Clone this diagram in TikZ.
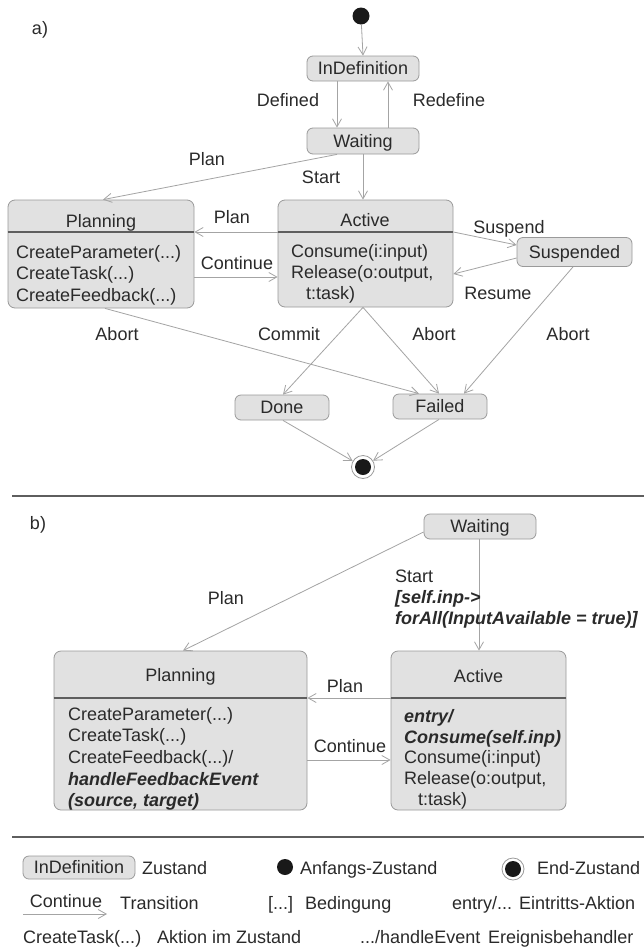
\documentclass[tikz,border=0pt]{standalone}
\usepackage{fontspec}
\setmainfont{Liberation Sans}
\usetikzlibrary{arrows.meta}
\definecolor{ink}{HTML}{2A2A2A}
\definecolor{boxfill}{HTML}{E1E1E1}
\definecolor{boxline}{HTML}{9A9A9A}
\definecolor{edge}{HTML}{A4A4A4}
\definecolor{rulecol}{HTML}{5E5E5E}

\tikzset{
  txt/.style={font=\fontsize{18}{21.5}\selectfont, text=ink, inner sep=0pt,
              text height=12.6pt, text depth=0pt},
  lbl/.style={txt},
  line/.style={txt, anchor=west},
  emph/.style={font=\fontsize{18}{21.5}\selectfont\bfseries\itshape},
  state/.style={txt, draw=boxline, fill=boxfill, rounded corners=6pt, line width=0.8pt},
  comp/.style={draw=boxline, fill=boxfill, rounded corners=7pt, line width=0.8pt, inner sep=0pt},
  divider/.style={draw=rulecol, line width=1.6pt},
  trans/.style={draw=edge, line width=0.8pt,
                -{Straight Barb[length=8pt,width=9pt,line width=0.8pt]}},
  sepline/.style={draw=rulecol, line width=1.8pt},
  initdot/.style={circle, fill=black!90, inner sep=0pt, minimum size=17pt},
  finaldot/.style={circle, draw=boxline, fill=white, line width=0.8pt, inner sep=0pt,
                   minimum size=23pt,
                   path picture={\fill[black!90] (path picture bounding box.center) circle (8pt);}},
}

\begin{document}
\begin{tikzpicture}[x=1pt, y=-1pt]
\useasboundingbox (0,0) rectangle (644,948);
\fill[white] (0,0) rectangle (644,948);

% ---------------- part a ----------------
\node[lbl] (tagA) at (40,28) {a)};

\node[initdot] (initA) at (361,16) {};
\node[state, minimum width=112pt, minimum height=25pt] (indefA) at (363,68.5) {InDefinition};
\node[state, minimum width=112pt, minimum height=26pt] (waitA) at (363,141) {Waiting};

% composite state Planning
\coordinate (divA) at (0,232);
\node[comp, minimum width=186pt, minimum height=108pt] (planA) at (101,254) {};
\draw[divider] (planA.west |- divA) -- (planA.east |- divA);
\node[lbl] (planAh) at (101,221) {Planning};
\node[line] (planA1) at (16,252) {CreateParameter(...)};
\node[line] (planA2) at (16,273.5) {CreateTask(...)};
\node[line] (planA3) at (16,295) {CreateFeedback(...)};

% composite state Active
\node[comp, minimum width=175pt, minimum height=107pt] (actA) at (365.5,253.5) {};
\draw[divider] (actA.west |- divA) -- (actA.east |- divA);
\node[lbl] (actAh) at (365,220) {Active};
\node[line] (actA1) at (291,251) {Consume(i:input)};
\node[line] (actA2) at (291,272) {Release(o:output,};
\node[line] (actA3) at (306,293) {t:task)};

\node[state, minimum width=115pt, minimum height=29pt] (suspA) at (574.5,252) {Suspended};
\node[state, minimum width=94pt, minimum height=25pt] (doneA) at (282,407.5) {Done};
\node[state, minimum width=94pt, minimum height=25pt] (failA) at (440,406.5) {Failed};
\node[finaldot] (finalA) at (363,467) {};

% transitions
\draw[trans] (initA) -- (indefA.north);
\draw[trans] ([xshift=-26pt]indefA.south) -- ([xshift=-26pt]waitA.north);
\draw[trans] ([xshift=25pt]waitA.north) -- ([xshift=25pt]indefA.south);
\draw[trans] ([xshift=-26pt]waitA.south) -- ([xshift=2pt]planA.north);
\draw[trans] (waitA.south) -- ([xshift=-2.5pt]actA.north);
\draw[trans] (actA.west |- divA) -- (planA.east |- divA);
\draw[trans] (actA.east |- divA) -- ([yshift=7pt]suspA.west);
\draw[trans] ([yshift=-6pt]suspA.west) -- ([yshift=-20.5pt]actA.east);
\draw[trans] ([yshift=-23pt]planA.east) -- ([yshift=-23.5pt]actA.west);
\draw[trans] ([xshift=4pt]planA.south) -- ([xshift=-21pt]failA.north);
\draw[trans] ([xshift=-2.5pt]actA.south) -- ([xshift=1pt]doneA.north);
\draw[trans] ([xshift=-2.5pt]actA.south) -- ([xshift=-1pt]failA.north);
\draw[trans] ([xshift=-1.5pt]suspA.south) -- ([xshift=24pt]failA.north);
\draw[trans] ([xshift=1pt]doneA.south) -- (finalA);
\draw[trans] ([xshift=-1pt]failA.south) -- (finalA);

% transition labels
\node[lbl] (lDefined) at (288,100) {Defined};
\node[lbl] (lRedefine) at (449,100) {Redefine};
\node[lbl] (lPlanA1) at (207,159) {Plan};
\node[lbl] (lStartA) at (321,177) {Start};
\node[lbl] (lPlanA2) at (232,217) {Plan};
\node[lbl] (lSuspend) at (509,227) {Suspend};
\node[lbl] (lResume) at (498,293) {Resume};
\node[lbl] (lContA) at (237,263) {Continue};
\node[lbl] (lAbort1) at (117,334) {Abort};
\node[lbl] (lCommit) at (289,334) {Commit};
\node[lbl] (lAbort2) at (434,334) {Abort};
\node[lbl] (lAbort3) at (568,334) {Abort};

% separator
\coordinate (sep1l) at (12,496);
\coordinate (sep1r) at (644,496);
\draw[sepline] (sep1l) -- (sep1r);

% ---------------- part b ----------------
\node[lbl] (tagB) at (38,523) {b)};

\node[state, minimum width=112pt, minimum height=25pt] (waitB) at (480,526.5) {Waiting};

\coordinate (divB) at (0,698);
\node[comp, minimum width=253pt, minimum height=159pt] (planB) at (180.5,730.5) {};
\draw[divider] (planB.west |- divB) -- (planB.east |- divB);
\node[lbl] (planBh) at (180.5,675) {Planning};
\node[line] (planB1) at (68,714) {CreateParameter(...)};
\node[line] (planB2) at (68,735.5) {CreateTask(...)};
\node[line] (planB3) at (68,757) {CreateFeedback(...)/};
\node[line, emph] (planB4) at (68,779) {handleFeedbackEvent};
\node[line, emph] (planB5) at (68,800.5) {(source, target)};

\node[comp, minimum width=175pt, minimum height=159pt] (actB) at (478.5,730.5) {};
\draw[divider] (actB.west |- divB) -- (actB.east |- divB);
\node[lbl] (actBh) at (478.5,676) {Active};
\node[line, emph] (actB1) at (404,716) {entry/};
\node[line, emph] (actB2) at (404,737) {Consume(self.inp)};
\node[line] (actB3) at (404,757.5) {Consume(i:input)};
\node[line] (actB4) at (404,778) {Release(o:output,};
\node[line] (actB5) at (418,799) {t:task)};

\draw[trans] ([yshift=-5.5pt]waitB.west) -- ([xshift=2.5pt]planB.north);
\draw[trans] ([xshift=-1pt]waitB.south) -- ([xshift=0.5pt]actB.north);
\draw[trans] (actB.west |- divB) -- (planB.east |- divB);
\draw[trans] ([yshift=-29.5pt]planB.east) -- ([yshift=-29.5pt]actB.west);

\node[lbl] (lPlanB1) at (226,598) {Plan};
\node[line] (lStartB1) at (395,576) {Start};
\node[line, emph] (lStartB2) at (395,597) {[self.inp->};
\node[line, emph] (lStartB3) at (395,618) {forAll(InputAvailable = true)]};
\node[lbl] (lPlanB2) at (345,686) {Plan};
\node[lbl] (lContB) at (350,746) {Continue};

\coordinate (sep2l) at (12,837);
\coordinate (sep2r) at (644,837);
\draw[sepline] (sep2l) -- (sep2r);

% ---------------- legend ----------------
\node[state, minimum width=112pt, minimum height=23pt] (legState) at (79,867.5) {InDefinition};
\node[line] (legStateT) at (142,868) {Zustand};
\node[initdot, minimum size=16pt] (legInit) at (285,867) {};
\node[line] (legInitT) at (300,868) {Anfangs-Zustand};
\node[finaldot, minimum size=22pt] (legFinal) at (513,869) {};
\node[line] (legFinalT) at (537,868) {End-Zustand};

\node[lbl] (legTransL) at (66,901) {Continue};
\coordinate (legArrA) at (23,914);
\coordinate (legArrB) at (107,914);
\draw[trans] (legArrA) -- (legArrB);
\node[line] (legTransT) at (120,903) {Transition};
\node[line] (legCond) at (268,903) {[...]};
\node[line] (legCondT) at (305,903) {Bedingung};
\node[line] (legEntry) at (452,903) {entry/...};
\node[line] (legEntryT) at (519,903) {Eintritts-Aktion};

\node[line] (legAct) at (23,937) {CreateTask(...)};
\node[line] (legActT) at (157,937) {Aktion im Zustand};
\node[line] (legEvt) at (360,937) {.../handleEvent};
\node[line] (legEvtT) at (488,937) {Ereignisbehandler};
\end{tikzpicture}
\end{document}
